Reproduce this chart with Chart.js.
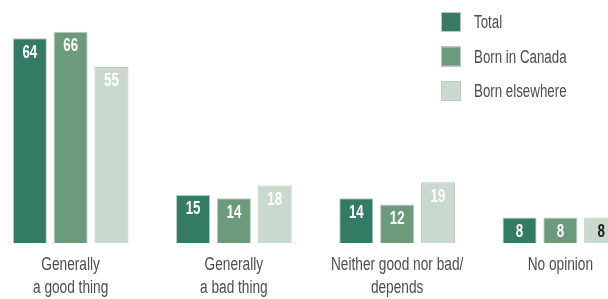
<!DOCTYPE html>
<html>
<head>
<meta charset="utf-8">
<script src="https://cdn.jsdelivr.net/npm/chart.js@4/dist/chart.umd.min.js"></script>
<style>
  html, body { margin: 0; padding: 0; background: #fff; overflow: hidden; width: 608px; height: 299px; }
  #wrap { position: absolute; left: -11px; top: 0; width: 653px; height: 299px; }
</style>
</head>
<body>
<div id="wrap"><canvas id="c"></canvas></div>
<script>
const categories = [["Generally", "a good thing"], ["Generally", "a bad thing"], ["Neither good nor bad/", "depends"], ["No opinion"]];
const seriesNames = ["Total", "Born in Canada", "Born elsewhere"];
const total = [64, 15, 14, 8];
const bornInCanada = [66, 14, 12, 8];
const bornElsewhere = [55, 18, 19, 8];

const FONT = "'Liberation Sans', Arial, sans-serif";
const colors = ['#347b65', '#6b9b7b', '#c9d9ce'];
const labelColors = [
  ['#fff', '#fff', '#fff', '#fff'],
  ['#fff', '#fff', '#fff', '#fff'],
  ['#fff', '#fff', '#fff', '#1e1e1e']
];

function condensedText(ctx, text, x, y, sx) {
  ctx.save();
  ctx.translate(x, y);
  ctx.scale(sx, 1);
  ctx.fillText(text, 0, 0);
  ctx.restore();
}

const valueLabels = {
  id: 'valueLabels',
  afterDatasetsDraw(chart) {
    const ctx = chart.ctx;
    ctx.save();
    ctx.font = "bold 19px " + FONT;
    ctx.textAlign = 'center';
    ctx.textBaseline = 'alphabetic';
    chart.data.datasets.forEach((ds, di) => {
      const meta = chart.getDatasetMeta(di);
      meta.data.forEach((bar, i) => {
        ctx.fillStyle = labelColors[di][i];
        condensedText(ctx, String(ds.data[i]), bar.x, bar.y + 19.3, 0.7);
      });
    });
    ctx.restore();
  }
};

const categoryLabels = {
  id: 'categoryLabels',
  afterDraw(chart) {
    const ctx = chart.ctx;
    const xs = chart.scales.x;
    const base = chart.chartArea.bottom;
    ctx.save();
    ctx.font = "18px " + FONT;
    ctx.fillStyle = '#4d4d4d';
    ctx.textAlign = 'center';
    ctx.textBaseline = 'alphabetic';
    chart.data.labels.forEach((lab, i) => {
      const x = xs.getPixelForValue(i);
      lab.forEach((line, li) => {
        condensedText(ctx, line, x, base + 26.5 + li * 23, 0.76);
      });
    });
    ctx.restore();
  }
};

const customLegend = {
  id: 'customLegend',
  afterDraw(chart) {
    const ctx = chart.ctx;
    ctx.save();
    ctx.font = "18px " + FONT;
    ctx.textAlign = 'left';
    ctx.textBaseline = 'alphabetic';
    chart.data.datasets.forEach((ds, di) => {
      const x = 452, y = 12 + di * 34.5;
      ctx.fillStyle = ds.backgroundColor;
      ctx.fillRect(x, y, 20, 20);
      ctx.strokeStyle = '#c4c4c4';
      ctx.lineWidth = 1;
      ctx.strokeRect(x + 0.5, y + 0.5, 19, 19);
      ctx.fillStyle = '#4d4d4d';
      condensedText(ctx, ds.label, x + 33, y + 16, 0.74);
    });
    ctx.restore();
  }
};

new Chart(document.getElementById('c'), {
  type: 'bar',
  data: {
    labels: categories,
    datasets: [
      { label: seriesNames[0], data: total, backgroundColor: colors[0] },
      { label: seriesNames[1], data: bornInCanada, backgroundColor: colors[1] },
      { label: seriesNames[2], data: bornElsewhere, backgroundColor: colors[2] }
    ].map(d => Object.assign(d, { borderColor: '#c4c4c4', borderWidth: 1, categoryPercentage: 0.75, barPercentage: 0.835 }))
  },
  options: {
    responsive: true,
    maintainAspectRatio: false,
    animation: false,
    layout: { padding: 0 },
    plugins: { legend: { display: false }, tooltip: { enabled: false } },
    scales: {
      y: { display: false, min: 0, max: 75.9375 },
      x: {
        grid: { display: false },
        border: { display: false },
        ticks: { display: false },
        afterFit(scale) { scale.height = 56; }
      }
    }
  },
  plugins: [valueLabels, categoryLabels, customLegend]
});
</script>
</body>
</html>
